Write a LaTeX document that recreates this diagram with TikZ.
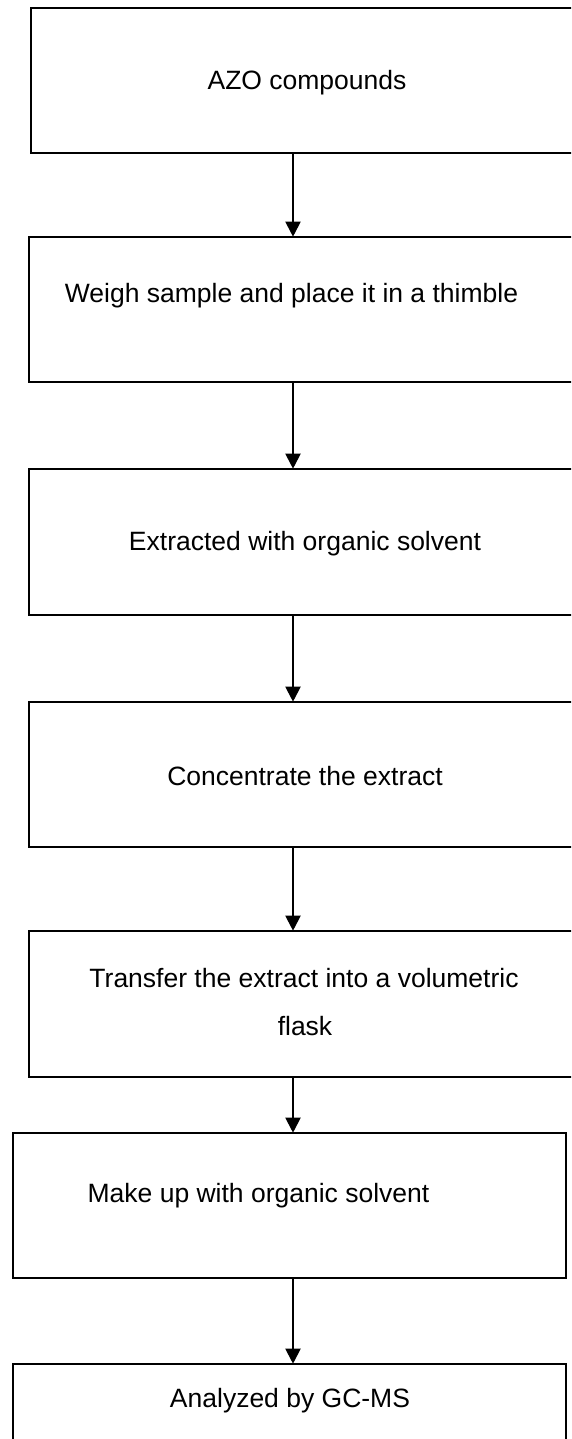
\documentclass[tikz,border=0pt]{standalone}
\usepackage{fontspec}
\setmainfont{Liberation Sans}
\usetikzlibrary{arrows.meta}
\begin{document}
\begin{tikzpicture}[x=1pt,y=-1pt,
  stepbox/.style={draw=black, line width=1.6pt, inner sep=0pt, fill=none},
  lbl/.style={anchor=base, inner sep=0pt, font=\fontsize{26.5}{48}\selectfont, align=center},
  arr/.style={line width=2pt, -{Triangle[width=15pt,length=15pt]}, shorten >=-0.5pt}
]
\useasboundingbox (0,0) rectangle (571,1439);
\clip (0,0) rectangle (571,1439);
% boxes
\node[stepbox, minimum width=544pt, minimum height=145pt] (b1) at (303,80.5) {};
\node[stepbox, minimum width=546pt, minimum height=145pt] (b2) at (302,309.5) {};
\node[stepbox, minimum width=546pt, minimum height=146pt] (b3) at (302,542) {};
\node[stepbox, minimum width=546pt, minimum height=145pt] (b4) at (302,774.5) {};
\node[stepbox, minimum width=546pt, minimum height=146pt] (b5) at (302,1004) {};
\node[stepbox, minimum width=553pt, minimum height=145pt] (b6) at (289.5,1205.5) {};
\node[stepbox, minimum width=553pt, minimum height=145pt] (b7) at (289.5,1436.5) {};
% texts
\node[lbl] (t1) at (307,90) {AZO compounds};
\node[lbl] (t2) at (291.5,302) {Weigh sample and place it in a thimble};
\node[lbl] (t3) at (305,550) {Extracted with organic solvent};
\node[lbl] (t4) at (305,785) {Concentrate the extract};
\node[lbl] (t5a) at (304,987) {Transfer the extract into a volumetric};
\node[lbl] (t5b) at (305,1035) {flask};
\node[lbl] (t6) at (258.5,1202) {Make up with organic solvent};
\node[lbl] (t7) at (290,1407) {Analyzed by GC-MS};
% connectors
\coordinate (ax) at (293,0);
\draw[arr] (b1.south -| ax) -- (b2.north -| ax);
\draw[arr] (b2.south -| ax) -- (b3.north -| ax);
\draw[arr] (b3.south -| ax) -- (b4.north -| ax);
\draw[arr] (b4.south -| ax) -- (b5.north -| ax);
\draw[arr] (b5.south -| ax) -- (b6.north -| ax);
\draw[arr] (b6.south -| ax) -- (b7.north -| ax);
\end{tikzpicture}
\end{document}
